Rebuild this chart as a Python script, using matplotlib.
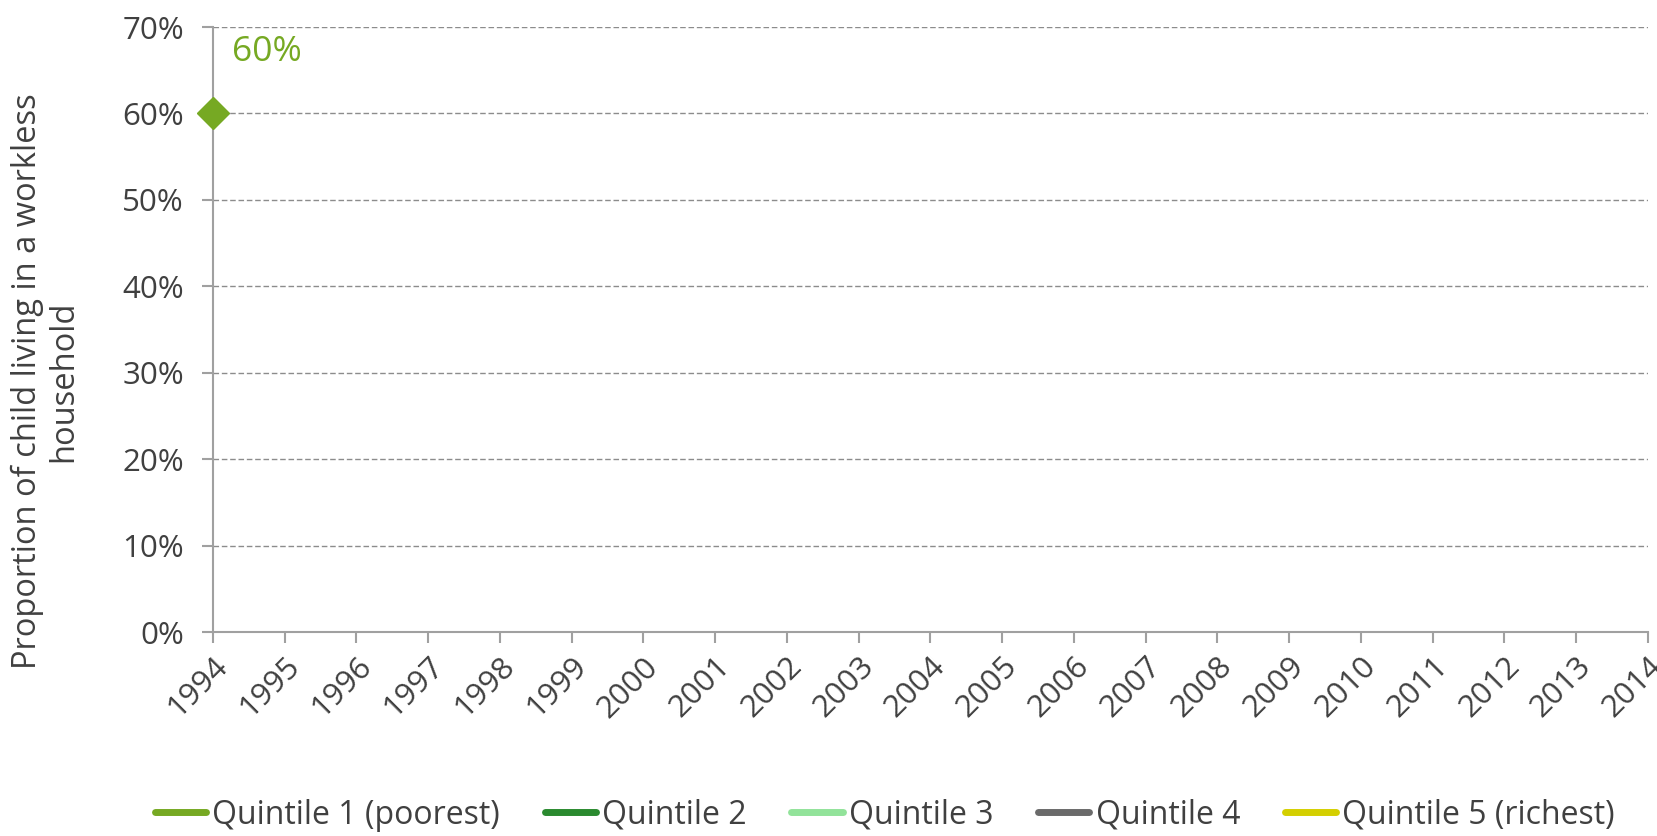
import numpy as np
import matplotlib.pyplot as plt
from matplotlib.ticker import PercentFormatter

plt.rcParams['font.family'] = ['Open Sans', 'DejaVu Sans']

# data: only the 1994 value of the poorest quintile is shown
years = list(range(1994, 2015))
nan = np.nan
q1 = [0.60] + [nan] * 20
q2 = [nan] * 21
q3 = [nan] * 21
q4 = [nan] * 21
q5 = [nan] * 21

series = [
    ('Quintile 1 (poorest)', q1, '#76a923'),
    ('Quintile 2', q2, '#2a8a2f'),
    ('Quintile 3', q3, '#92e39a'),
    ('Quintile 4', q4, '#6a6a6a'),
    ('Quintile 5 (richest)', q5, '#d4cf00'),
]

txt = '#404040'
axc = '#a0a0a0'

fig = plt.figure(figsize=(16.57, 8.36), dpi=100)
ax = fig.add_axes([0.1285, 0.244, 0.866, 0.7237])

for i, (name, vals, col) in enumerate(series):
    ax.plot(years, vals, color=col, lw=4, label=name,
            marker='D' if i == 0 else None, markersize=16.5,
            clip_on=False, zorder=5)

# label the single point
ax.annotate('60%', xy=(years[0], q1[0]), xytext=(14, 44), textcoords='offset points',
            ha='left', va='center', fontsize=25.5, color=series[0][2])

ax.set_xlim(1994, 2014)
ax.set_ylim(0, 0.7)
ax.set_xticks(years)
ax.set_xticklabels([str(y) for y in years], rotation=45, ha='right',
                   rotation_mode='anchor', fontsize=22.5, color=txt)
ax.set_yticks(np.arange(0, 0.71, 0.1))
ax.yaxis.set_major_formatter(PercentFormatter(1.0, decimals=0))
ax.tick_params(axis='y', labelsize=22.5, labelcolor=txt, color=axc, length=8, width=1.5, pad=13)
ax.tick_params(axis='x', color=axc, length=8, width=1.5, pad=6)

ax.grid(axis='y', linestyle=(0, (4, 2)), color='#8c8c8c', lw=1)
ax.set_axisbelow(True)
for s in ['top', 'right']:
    ax.spines[s].set_visible(False)
for s in ['left', 'bottom']:
    ax.spines[s].set_color(axc)
    ax.spines[s].set_linewidth(1.5)

ax.set_ylabel('Proportion of child living in a workless\nhousehold', fontsize=23.5,
              color=txt, labelpad=30, linespacing=1.15)
ax.yaxis.label.set_y(0.415)

leg = fig.legend(loc='center', bbox_to_anchor=(0.534, 0.025), ncol=5, frameon=False,
                 fontsize=23, handlelength=1.6, handletextpad=0.2, columnspacing=1.4,
                 labelcolor=txt)
for h in leg.legend_handles:
    h.set_marker('')
    h.set_linewidth(5)
    h.set_solid_capstyle('round')

fig.savefig('out.png', dpi=100)
